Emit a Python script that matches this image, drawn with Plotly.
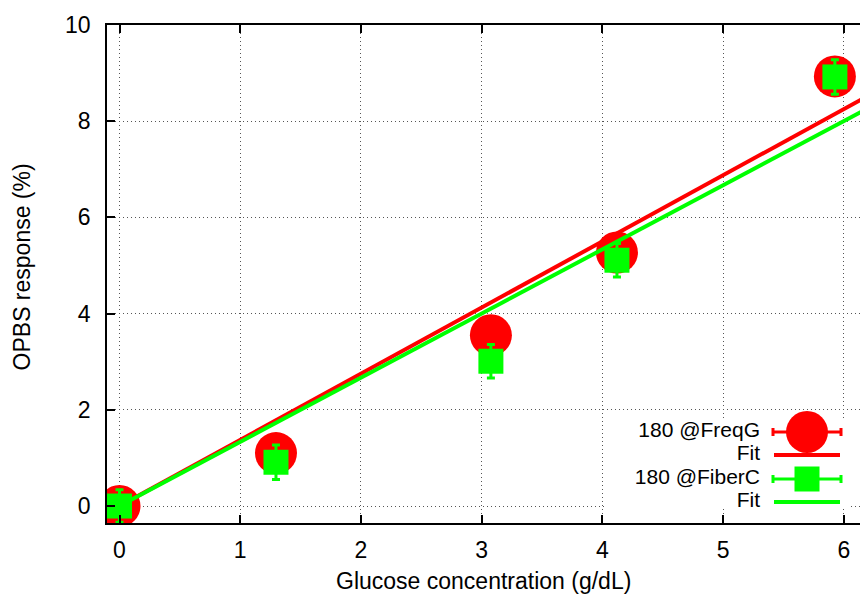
import numpy as np
import plotly.graph_objects as go

# ---- data ----
glucose = [0.0, 1.296, 3.076, 4.12, 5.925]
freqg_resp = [0.0, 1.10, 3.55, 5.27, 8.93]
freqg_err = [0.35, 0.35, 0.35, 0.35, 0.35]
fiberc_resp = [0.0, 0.91, 3.01, 5.11, 8.92]
fiberc_err = [0.34, 0.36, 0.35, 0.35, 0.36]
x_ticks = [0, 1, 2, 3, 4, 5, 6]
y_ticks = [0, 2, 4, 6, 8, 10]
legend_labels = ["180 @FreqG", "Fit", "180 @FiberC", "Fit"]

RED = "#ff0000"
GREEN = "#00ff00"
FONT = "Liberation Sans"
FS = 23
KEY_FS = 21

gx = np.array(glucose)


def slope_through_origin(y):
    y = np.array(y)
    return float((gx * y).sum() / (gx * gx).sum())


fit_x = np.array([0.0, 6.6])
red_fit = slope_through_origin(freqg_resp) * fit_x
green_fit = slope_through_origin(fiberc_resp) * fit_x

fig = go.Figure()

fig.add_trace(go.Scatter(
    x=glucose, y=freqg_resp, mode="markers",
    marker=dict(symbol="circle", size=42, color=RED, line=dict(width=0)),
    error_y=dict(type="data", array=freqg_err, color=RED, thickness=3, width=4),
    showlegend=False))
fig.add_trace(go.Scatter(x=fit_x, y=red_fit, mode="lines",
                         line=dict(color=RED, width=4), showlegend=False))
fig.add_trace(go.Scatter(
    x=glucose, y=fiberc_resp, mode="markers",
    marker=dict(symbol="square", size=25, color=GREEN, line=dict(width=0)),
    error_y=dict(type="data", array=fiberc_err, color=GREEN, thickness=3, width=4),
    showlegend=False))
fig.add_trace(go.Scatter(x=fit_x, y=green_fit, mode="lines",
                         line=dict(color=GREEN, width=4), showlegend=False))

# ---- custom key (gnuplot style: text left, sample right) on a pixel overlay ----
LX = "x2"
LY = "y2"
# opaque key box
fig.add_trace(go.Scatter(x=[605, 851, 851, 605, 605], y=[418, 418, 507, 507, 418],
                         xaxis=LX, yaxis=LY, mode="lines", fill="toself",
                         fillcolor="white", line=dict(width=0, color="white"),
                         hoverinfo="skip", showlegend=False))
key_rows = [432, 455, 479, 502]
fig.add_trace(go.Scatter(x=[807], y=[key_rows[0]], xaxis=LX, yaxis=LY, mode="markers",
                         marker=dict(symbol="circle", size=42, color=RED),
                         error_x=dict(type="data", array=[34], color=RED, thickness=3, width=4),
                         showlegend=False))
fig.add_trace(go.Scatter(x=[774, 840], y=[key_rows[1]] * 2, xaxis=LX, yaxis=LY, mode="lines",
                         line=dict(color=RED, width=4), showlegend=False))
fig.add_trace(go.Scatter(x=[807], y=[key_rows[2]], xaxis=LX, yaxis=LY, mode="markers",
                         marker=dict(symbol="square", size=25, color=GREEN),
                         error_x=dict(type="data", array=[34], color=GREEN, thickness=3, width=4),
                         showlegend=False))
fig.add_trace(go.Scatter(x=[774, 840], y=[key_rows[3]] * 2, xaxis=LX, yaxis=LY, mode="lines",
                         line=dict(color=GREEN, width=4), showlegend=False))
# key labels, right-aligned against the samples
fig.add_trace(go.Scatter(x=[760] * 4, y=key_rows, xaxis=LX, yaxis=LY, mode="text",
                         text=legend_labels, textposition="middle left",
                         textfont=dict(family=FONT, size=KEY_FS, color="black"),
                         hoverinfo="skip", showlegend=False, cliponaxis=False))

annotations = []
annotations.append(dict(text="Glucose concentration (g/dL)", x=0.5, y=-0.1155,
                        xref="paper", yref="paper", xanchor="center", yanchor="middle",
                        showarrow=False, font=dict(family=FONT, size=FS, color="black")))
annotations.append(dict(text="OPBS response (%)", x=-0.113, y=0.515, textangle=-90,
                        xref="paper", yref="paper", xanchor="center", yanchor="middle",
                        showarrow=False, font=dict(family=FONT, size=FS, color="black")))

axis_common = dict(
    showgrid=True, gridcolor="#555555", gridwidth=1, griddash="1px,3px",
    zeroline=False, showline=True, linecolor="black", linewidth=1.5,
    ticks="inside", ticklen=8, tickwidth=1.5, tickcolor="black",
    tickfont=dict(family=FONT, size=FS, color="black"),
)

fig.update_layout(
    width=860, height=595,
    margin=dict(l=107, r=0, t=25, b=72),
    paper_bgcolor="white", plot_bgcolor="white",
    showlegend=False,
    annotations=annotations,
    xaxis=dict(range=[-0.1035, 6.133], tickvals=x_ticks, mirror="ticks",
               ticklabelstandoff=6, **axis_common),
    yaxis=dict(range=[-0.353, 10.0], tickvals=y_ticks, mirror=False,
               ticklabelstandoff=10, **axis_common),
    xaxis2=dict(overlaying="x", anchor="y2", range=[107, 860], visible=False,
                showgrid=False, fixedrange=True),
    yaxis2=dict(overlaying="y", anchor="x2", range=[523, 25], visible=False,
                showgrid=False, fixedrange=True),
)

fig.write_html("out.html")
